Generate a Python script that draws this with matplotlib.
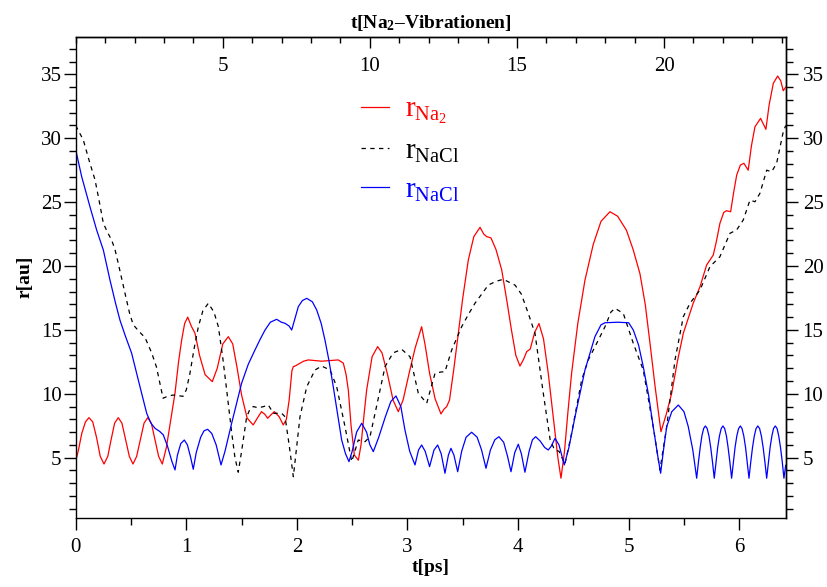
import matplotlib
matplotlib.use('Agg')
import matplotlib.pyplot as plt
from matplotlib.ticker import MultipleLocator, FixedLocator
from matplotlib.lines import Line2D

plt.rcParams['font.family'] = ['Liberation Serif', 'DejaVu Serif']
plt.rcParams['mathtext.fontset'] = 'custom'
plt.rcParams['mathtext.rm'] = 'Liberation Serif'
plt.rcParams['mathtext.it'] = 'Liberation Serif:italic'
plt.rcParams['mathtext.bf'] = 'Liberation Serif:bold'

# ---------------- data ----------------
t_na2 = [0.000, 0.025, 0.055, 0.088, 0.120, 0.154, 0.188, 0.222, 0.256, 0.290,
         0.320, 0.352, 0.385, 0.418, 0.451, 0.485, 0.518, 0.551, 0.585, 0.618,
         0.651, 0.684, 0.717, 0.750, 0.783, 0.820, 0.860, 0.898, 0.930, 0.958,
         0.985, 1.013, 1.045, 1.079, 1.120, 1.170, 1.235, 1.280, 1.330, 1.380,
         1.420, 1.460, 1.500, 1.550, 1.605, 1.650, 1.680, 1.710, 1.736, 1.765,
         1.796, 1.840, 1.877, 1.905, 1.930, 1.955, 1.968, 1.990, 2.060, 2.103,
         2.160, 2.224, 2.300, 2.374, 2.420, 2.445, 2.465, 2.490, 2.520, 2.556,
         2.580, 2.610, 2.631, 2.680, 2.730, 2.770, 2.820, 2.870, 2.917, 2.960,
         3.020, 3.070, 3.128, 3.160, 3.200, 3.250, 3.303, 3.330, 3.354, 3.380,
         3.420, 3.460, 3.500, 3.550, 3.600, 3.656, 3.690, 3.716, 3.755, 3.800,
         3.852, 3.900, 3.940, 3.980, 4.017, 4.050, 4.078, 4.110, 4.150, 4.189,
         4.230, 4.273, 4.320, 4.360, 4.388, 4.420, 4.450, 4.484, 4.540, 4.605,
         4.680, 4.750, 4.831, 4.900, 4.980, 5.040, 5.102, 5.150, 5.193, 5.240,
         5.292, 5.340, 5.389, 5.440, 5.494, 5.584, 5.645, 5.705, 5.765, 5.795,
         5.825, 5.860, 5.886, 5.922, 5.950, 5.977, 6.010, 6.042, 6.081, 6.110,
         6.142, 6.193, 6.241, 6.270, 6.308, 6.347, 6.375, 6.398, 6.420]
r_na2 = [4.70, 5.60, 6.90, 7.80, 8.13, 7.80, 6.60, 5.10, 4.50, 5.10,
         6.40, 7.70, 8.13, 7.70, 6.40, 5.10, 4.50, 5.10, 6.40, 7.70,
         8.13, 7.70, 6.40, 5.10, 4.50, 5.80, 8.00, 10.06, 12.50, 14.20,
         15.50, 16.00, 15.30, 14.73, 13.00, 11.50, 10.95, 12.00, 13.90, 14.47,
         13.90, 12.00, 9.90, 8.10, 7.56, 8.20, 8.60, 8.40, 8.08, 8.35,
         8.60, 8.20, 7.56, 8.00, 9.50, 11.80, 12.12, 12.20, 12.55, 12.65,
         12.60, 12.55, 12.60, 12.65, 12.40, 11.50, 10.30, 7.50, 5.20, 4.80,
         6.00, 8.60, 10.30, 12.90, 13.69, 13.20, 11.50, 9.50, 8.60, 9.50,
         11.80, 13.60, 15.25, 13.80, 11.60, 9.60, 8.42, 8.80, 8.99, 9.50,
         12.00, 14.73, 17.50, 20.47, 22.30, 23.03, 22.50, 22.30, 22.20, 21.30,
         19.70, 17.20, 15.00, 13.00, 12.17, 12.70, 13.30, 13.50, 14.80, 15.50,
         14.30, 11.60, 8.00, 5.00, 3.39, 5.50, 8.50, 11.60, 15.50, 18.90,
         21.70, 23.50, 24.25, 23.90, 22.80, 21.30, 19.40, 17.00, 13.95, 10.50,
         7.03, 8.40, 10.04, 12.50, 14.73, 17.10, 18.38, 20.08, 20.86, 22.00,
         23.34, 24.20, 24.33, 24.25, 25.80, 27.12, 27.90, 28.04, 27.50, 29.40,
         30.90, 31.56, 30.70, 32.60, 34.30, 34.87, 34.50, 33.72, 34.00]

t_nacl_k = [0.000, 0.069, 0.120, 0.175, 0.210, 0.250, 0.290, 0.325, 0.355, 0.385,
            0.446, 0.490, 0.521, 0.570, 0.627, 0.687, 0.730, 0.790, 0.830, 0.880,
            0.930, 0.970, 1.000, 1.033, 1.070, 1.109, 1.150, 1.199, 1.250, 1.290,
            1.330, 1.365, 1.410, 1.440, 1.470, 1.500, 1.546, 1.576, 1.606, 1.650,
            1.700, 1.742, 1.787, 1.863, 1.893, 1.930, 1.968, 2.000, 2.028, 2.089,
            2.164, 2.224, 2.300, 2.360, 2.435, 2.496, 2.555, 2.616, 2.661, 2.720,
            2.797, 2.870, 2.948, 3.023, 3.098, 3.174, 3.249, 3.300, 3.339, 3.400,
            3.490, 3.550, 3.610, 3.731, 3.800, 3.866, 3.972, 4.030, 4.092, 4.153,
            4.228, 4.290, 4.330, 4.370, 4.424, 4.484, 4.575, 4.635, 4.711, 4.786,
            4.840, 4.876, 4.951, 5.042, 5.132, 5.222, 5.283, 5.344, 5.419, 5.494,
            5.554, 5.645, 5.735, 5.825, 5.916, 5.976, 6.036, 6.097, 6.142, 6.187,
            6.248, 6.293, 6.338, 6.398, 6.420]
r_nacl_k = [31.00, 29.86, 28.30, 26.73, 25.20, 23.34, 22.60, 22.03, 21.30, 20.20,
            17.86, 16.20, 15.40, 14.90, 14.40, 13.20, 12.10, 9.65, 9.80, 9.90,
            9.85, 9.80, 10.30, 11.60, 13.50, 15.25, 16.50, 17.08, 16.40, 15.25,
            12.80, 10.30, 7.00, 5.00, 3.86, 5.50, 8.20, 8.80, 9.00, 8.90,
            9.00, 9.12, 8.47, 8.47, 8.20, 6.00, 3.51, 6.00, 8.20, 10.55,
            11.86, 12.17, 11.86, 10.55, 7.43, 4.69, 6.38, 6.25, 6.64, 9.00,
            12.12, 13.20, 13.48, 12.90, 10.04, 9.26, 11.60, 11.70, 11.73, 13.43,
            15.25, 16.20, 17.08, 18.51, 18.80, 18.96, 18.51, 17.80, 16.30, 14.73,
            10.04, 6.40, 5.60, 5.50, 4.50, 6.90, 11.08, 12.65, 13.95, 15.25,
            16.40, 16.69, 16.30, 13.95, 11.86, 7.43, 4.04, 7.43, 12.65, 16.03,
            17.08, 18.12, 19.95, 20.73, 22.56, 22.82, 23.60, 25.16, 25.03, 25.69,
            27.50, 27.38, 28.04, 30.51, 31.00]

t_nacl_b = [0.000, 0.054, 0.129, 0.190, 0.250, 0.310, 0.360, 0.400, 0.450, 0.506,
            0.566, 0.642, 0.680, 0.717, 0.760, 0.792, 0.830, 0.870, 0.898, 0.920,
            0.950, 0.982, 1.010, 1.040, 1.063, 1.090, 1.130, 1.160, 1.193, 1.230,
            1.270, 1.314, 1.350, 1.410, 1.500, 1.560, 1.621, 1.670, 1.712, 1.760,
            1.817, 1.860, 1.892, 1.930, 1.953, 1.980, 2.013, 2.050, 2.089, 2.140,
            2.179, 2.220, 2.254, 2.290, 2.329, 2.370, 2.405, 2.440, 2.471, 2.500,
            2.540, 2.586, 2.630, 2.660, 2.691, 2.740, 2.800, 2.850, 2.896, 2.940,
            2.977, 3.020, 3.068, 3.100, 3.128, 3.160, 3.200, 3.240, 3.273, 3.305,
            3.339, 3.370, 3.393, 3.420, 3.454, 3.490, 3.530, 3.580, 3.630, 3.670,
            3.710, 3.750, 3.790, 3.827, 3.870, 3.905, 3.936, 3.970, 4.002, 4.030,
            4.062, 4.100, 4.130, 4.159, 4.200, 4.240, 4.273, 4.300, 4.334, 4.370,
            4.400, 4.418, 4.460, 4.515, 4.605, 4.695, 4.750, 4.786, 4.900, 5.000,
            5.042, 5.090, 5.132, 5.180, 5.222, 5.260, 5.289, 5.315, 5.344, 5.390,
            5.449, 5.500, 5.539, 5.580, 5.615, 5.631, 5.647, 5.662, 5.678, 5.694,
            5.710, 5.726, 5.742, 5.758, 5.774, 5.790, 5.805, 5.821, 5.837, 5.852,
            5.868, 5.884, 5.899, 5.915, 5.931, 5.947, 5.962, 5.978, 5.994, 6.010,
            6.025, 6.041, 6.057, 6.072, 6.088, 6.104, 6.120, 6.136, 6.152, 6.168,
            6.184, 6.200, 6.216, 6.232, 6.248, 6.264, 6.279, 6.295, 6.310, 6.326,
            6.342, 6.357, 6.373, 6.389, 6.404, 6.420]
r_nacl_b = [29.10, 27.00, 24.64, 22.80, 21.25, 18.90, 17.10, 15.77, 14.50, 13.17,
            11.08, 8.47, 7.70, 7.30, 7.05, 6.78, 5.90, 4.70, 4.04, 5.20,
            6.10, 6.38, 6.00, 5.00, 4.09, 5.40, 6.60, 7.10, 7.22, 6.90,
            6.00, 4.43, 5.50, 7.69, 10.82, 12.30, 13.43, 14.30, 14.99, 15.60,
            15.83, 15.60, 15.52, 15.30, 14.99, 15.80, 16.82, 17.30, 17.47, 17.20,
            16.56, 15.50, 14.20, 12.60, 10.55, 8.30, 6.38, 5.30, 4.69, 5.50,
            7.00, 7.69, 7.00, 6.00, 5.47, 6.60, 8.20, 9.40, 9.83, 9.00,
            7.17, 5.50, 4.43, 5.60, 5.99, 5.50, 4.30, 5.60, 5.99, 5.30,
            3.78, 5.20, 5.73, 5.20, 3.90, 5.50, 6.60, 6.99, 6.60, 5.60,
            4.17, 5.60, 6.40, 6.64, 6.20, 5.10, 3.90, 5.40, 6.05, 5.30,
            3.86, 5.50, 6.40, 6.64, 6.30, 5.80, 5.60, 5.90, 6.51, 6.00,
            5.00, 4.43, 5.80, 8.20, 11.86, 14.47, 15.40, 15.56, 15.60, 15.56,
            14.99, 13.80, 12.12, 9.90, 7.43, 5.30, 3.78, 5.60, 7.43, 8.60,
            9.12, 8.60, 7.43, 5.60, 3.39, 4.66, 5.80, 6.70, 7.28, 7.48,
            7.28, 6.70, 5.80, 4.66, 3.39, 4.66, 5.80, 6.70, 7.28, 7.48,
            7.28, 6.70, 5.80, 4.66, 3.39, 4.66, 5.80, 6.70, 7.28, 7.48,
            7.28, 6.70, 5.80, 4.66, 3.39, 4.66, 5.80, 6.70, 7.28, 7.48,
            7.28, 6.70, 5.80, 4.66, 3.39, 4.66, 5.80, 6.70, 7.28, 7.48,
            7.28, 6.70, 5.80, 4.66, 3.39, 4.40]

x_major_ticks = [0, 1, 2, 3, 4, 5, 6]
y_major_ticks = [5, 10, 15, 20, 25, 30, 35]
vib_major_ticks = [5, 10, 15, 20]
ps_per_vibration = 0.266
legend_labels = [r'$\mathrm{r}_{\mathrm{Na}_{2}}$', r'$\mathrm{r}_{\mathrm{NaCl}}$',
                 r'$\mathrm{r}_{\mathrm{NaCl}}$']
xlabel_text = 't[ps]'
ylabel_text = 'r[au]'
toplabel_text = r't[Na$_{\mathbf{2}}$–Vibrationen]'

# ---------------- figure ----------------
W, H = 827, 587
fig = plt.figure(figsize=(W / 100, H / 100), dpi=100)
L, R, T, B = 75.7, 785.7, 36.7, 517.7
ax = fig.add_axes([L / W, 1 - B / H, (R - L) / W, (B - T) / H])

ax.plot(t_na2, r_na2, color='#ff0000', lw=0.9)
ax.plot(t_nacl_k, r_nacl_k, color='black', lw=0.9, linestyle=(0, (3.5, 3.5)))
ax.plot(t_nacl_b, r_nacl_b, color='#0000ff', lw=0.9)

ax.set_xlim(0, 6.42)
ax.set_ylim(0.3, 37.95)

for s in ax.spines.values():
    s.set_linewidth(1.0)

MAJ, MIN = 8.6, 5.0

ax.xaxis.set_major_locator(FixedLocator(x_major_ticks))
ax.xaxis.set_minor_locator(MultipleLocator(0.5))
ax.yaxis.set_major_locator(FixedLocator(y_major_ticks))
ax.yaxis.set_minor_locator(MultipleLocator(1))

ax.tick_params(axis='x', which='major', direction='out', length=MAJ, width=1,
               labelsize=15, pad=6.3, top=False)
ax.tick_params(axis='x', which='minor', direction='out', length=MIN, width=1, top=False)
ax.tick_params(axis='y', which='major', direction='out', length=MAJ, width=1,
               labelsize=15, pad=1.5, left=True, right=False)
ax.tick_params(axis='y', which='minor', direction='out', length=MIN, width=1,
               left=True, right=False)

# right axis (same scale)
secy = ax.secondary_yaxis('right')
secy.yaxis.set_major_locator(FixedLocator(y_major_ticks))
secy.yaxis.set_minor_locator(MultipleLocator(1))
secy.tick_params(which='major', direction='out', length=MAJ, width=1, labelsize=15, pad=3.6)
secy.tick_params(which='minor', direction='out', length=MIN, width=1)
secy.spines['right'].set_linewidth(1.0)

# top axis: Na2 vibrations
secx = ax.secondary_xaxis('top', functions=(lambda t: t / ps_per_vibration,
                                             lambda v: v * ps_per_vibration))
secx.xaxis.set_major_locator(FixedLocator(vib_major_ticks))
secx.xaxis.set_minor_locator(MultipleLocator(1))
secx.tick_params(which='major', direction='in', length=8.0, width=1, labelsize=15, pad=-28)
secx.tick_params(which='minor', direction='in', length=4.3, width=1)
secx.spines['top'].set_linewidth(1.0)
secx.set_xlabel(toplabel_text, fontsize=14, fontweight='bold', labelpad=3)

ax.set_xlabel(xlabel_text, fontsize=14, fontweight='bold', labelpad=1)
ax.set_ylabel(ylabel_text, fontsize=14, fontweight='bold', labelpad=5)

handles = [Line2D([], [], color='#ff0000', lw=0.9),
           Line2D([], [], color='black', lw=0.9, linestyle=(0, (3.5, 3.5))),
           Line2D([], [], color='#0000ff', lw=0.9)]
ax.legend(handles, legend_labels, loc='upper left', bbox_to_anchor=(0.402, 0.876),
          frameon=False, fontsize=21, handlelength=0.95, handletextpad=0.55,
          labelspacing=0.42, borderpad=0, borderaxespad=0, labelcolor='linecolor')

fig.savefig('out.png', dpi=100)
